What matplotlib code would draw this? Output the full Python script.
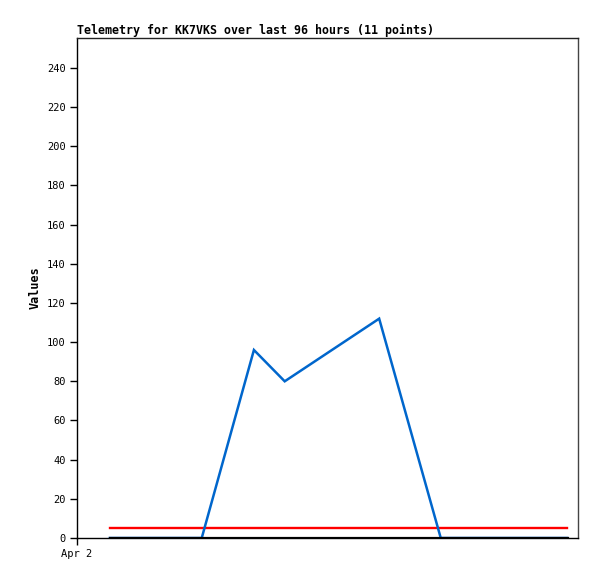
import matplotlib
matplotlib.use("Agg")
import matplotlib.pyplot as plt

# Data (hours since Apr 2 00:00)
hours = [6.3, 12.0, 18.0, 23.9, 33.9, 39.8, 57.9, 69.7, 78.0, 86.0, 93.9]
series_blue = [0, 0, 0, 0, 96, 80, 112, 0, 0, 0, 0]
series_red = [5, 5, 5, 5, 5, 5, 5, 5, 5, 5, 5]
series_black = [0, 0, 0, 0, 0, 0, 0, 0, 0, 0, 0]
yticks = list(range(0, 241, 20))
xtick_pos = [0]
xtick_labels = ["Apr 2"]
title = "Telemetry for KK7VKS over last 96 hours (11 points)"

fig = plt.figure(figsize=(5.97, 5.79), dpi=100)
ax = fig.add_axes([77/597, 41/579, 501/597, 500/579])

ax.plot(hours, series_blue, color="#0066cc", lw=1.8, solid_joinstyle="miter", zorder=3)
ax.plot(hours, series_red, color="#ff0000", lw=1.7, zorder=2)
ax.plot(hours, series_black, color="#000000", lw=2.3, zorder=4)

ax.set_xlim(0, 96)
ax.set_ylim(0, 255.3)
ax.set_yticks(yticks)
ax.set_yticklabels([str(v) for v in yticks], family="DejaVu Sans Mono", fontsize=7.5)
ax.set_xticks(xtick_pos)
ax.set_xticklabels(xtick_labels, family="DejaVu Sans Mono", fontsize=7.5)
ax.tick_params(axis="both", length=5, width=1, color="black", pad=3)

for s in ax.spines.values():
    s.set_linewidth(1)
ax.spines["right"].set_color("#444444")
ax.spines["top"].set_color("#222222")

ax.set_ylabel("Values", family="DejaVu Sans Mono", fontweight="bold", fontsize=8.5, labelpad=4)
ax.set_title(title, loc="left", family="DejaVu Sans Mono", fontweight="bold", fontsize=8.4, pad=3)

fig.savefig("out.png", dpi=100, facecolor="white")
